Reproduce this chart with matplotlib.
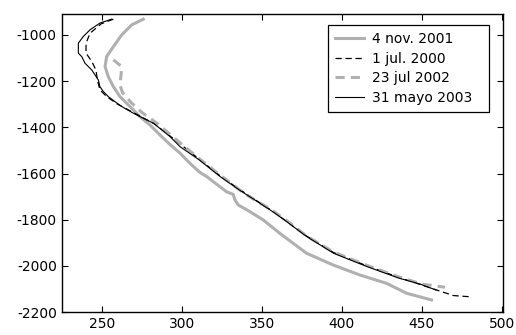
import numpy as np
import matplotlib.pyplot as plt

plt.rcParams['font.family'] = ['DejaVu Sans']
plt.rcParams['axes.unicode_minus'] = False

# 4 nov. 2001 (gray thick solid)
nov01_x = [276, 268.7, 262.5, 257.3, 253.1, 252.1, 254.1, 257.3, 261.4, 267.7, 273.9, 280.2,
           286.4, 292, 299, 305.2, 311.4, 315.6, 323.9, 328.1, 332.2, 333.3, 335.4, 342.7,
           351, 361.4, 378.1, 394.8, 411.4, 428.1, 440.6, 456.2]
nov01_y = [-932, -957, -1000, -1051, -1094, -1137, -1181, -1224, -1267, -1310, -1354, -1390,
           -1433, -1470, -1512, -1556, -1595, -1613, -1657, -1679, -1690, -1714, -1736, -1765,
           -1801, -1859, -1945, -1996, -2039, -2075, -2118, -2147]

# 1 jul. 2000 (black dashed)
jul00_x = [257.3, 249.7, 242.7, 240.2, 240.2, 243.8, 246.4, 247.3, 248.9, 253.1, 260, 270,
           283, 295, 311, 324, 336, 347, 358, 368, 378, 395, 416, 436, 450, 462, 470, 480]
jul00_y = [-932, -952, -993, -1036, -1079, -1115, -1152, -1195, -1238, -1267, -1300, -1337,
           -1385, -1450, -1538, -1610, -1668, -1718, -1768, -1820, -1870, -1942, -2000, -2050,
           -2082, -2110, -2128, -2133]

# 23 jul 2002 (gray thick dashed)
jul02_x = [257.3, 262.5, 262.1, 261.4, 263, 268, 275, 285, 296, 311, 325, 340, 355, 365,
           378, 395, 415, 436, 450, 464.6]
jul02_y = [-1108, -1137, -1173, -1216, -1250, -1290, -1335, -1385, -1450, -1536, -1612, -1690,
           -1752, -1800, -1870, -1940, -1995, -2048, -2078, -2092]

# 31 mayo 2003 (black thin solid)
may03_x = [256.2, 248.9, 242.7, 238.5, 235.4, 235.4, 237.5, 239.6, 243.8, 245.8, 247.9, 248.9,
           251, 254.1, 258.3, 262.5, 269.8, 276, 282.3, 292.7, 299, 311, 324, 336, 347, 358,
           367, 378, 395, 416, 436, 449, 459]
may03_y = [-932, -949, -978, -1007, -1036, -1079, -1094, -1123, -1152, -1173, -1195, -1224,
           -1245, -1267, -1289, -1310, -1339, -1361, -1382, -1440, -1484, -1541, -1613, -1671,
           -1720, -1770, -1815, -1872, -1945, -2003, -2053, -2078, -2104]

gray = '#b0b0b0'

fig = plt.figure(figsize=(5.16, 3.35), dpi=100)
ax = fig.add_axes([0.1196, 0.068, 0.8556, 0.89])

ax.plot(nov01_x, nov01_y, color=gray, lw=2.2, label='4 nov. 2001')
ax.plot(jul00_x, jul00_y, color='black', lw=0.9, ls=(0, (5, 3)), label='1 jul. 2000')
ax.plot(jul02_x, jul02_y, color=gray, lw=2.2, ls=(0, (3, 2)), label='23 jul 2002')
ax.plot(may03_x, may03_y, color='black', lw=0.8, label='31 mayo 2003')

ax.set_xlim(225, 501)
ax.set_ylim(-2200, -910)
ax.set_xticks(np.arange(250, 501, 50))
ax.set_yticks(np.arange(-2200, -999, 200))
ax.tick_params(direction='in', top=True, right=True, length=4, labelsize=10, width=0.8)
for s in ax.spines.values():
    s.set_linewidth(1.0)

# legend box stretched to the reference frame
leg = ax.legend(loc='upper left', bbox_to_anchor=(0.603, 0.685, 0.365, 0.278), mode='expand',
                borderaxespad=0, fancybox=False, edgecolor='black', framealpha=1, fontsize=10,
                handlelength=2.1, handletextpad=0.55, labelspacing=0.4, borderpad=0.5)
leg.get_frame().set_linewidth(0.9)

fig.savefig('out.png', dpi=100)
